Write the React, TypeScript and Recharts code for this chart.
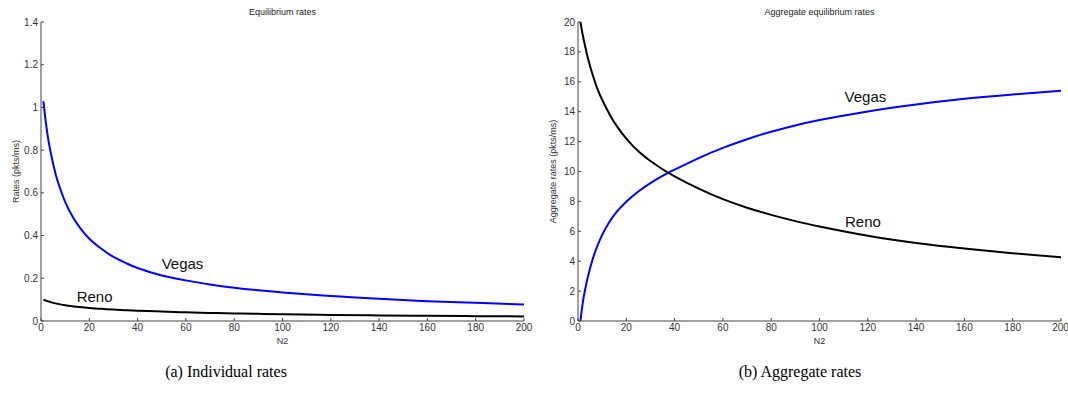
import React from 'react';
import { LineChart, Line, XAxis, YAxis, ReferenceDot } from 'recharts';

// N2 sample points
const n2 = [1, 2, 3, 4, 6, 8, 10, 13, 16, 20, 25, 30, 35, 40, 50, 60, 70, 80, 90, 100, 120, 140, 160, 180, 200];

// (a) individual rates, pkts/ms
const vegasRate = [1.03, 0.93, 0.85, 0.79, 0.69, 0.618, 0.558, 0.49, 0.438, 0.385, 0.338, 0.3, 0.272, 0.248, 0.213, 0.19, 0.171, 0.156, 0.144, 0.134, 0.117, 0.104, 0.093, 0.085, 0.077];
const renoRate = [0.1, 0.0955, 0.0918, 0.0883, 0.0825, 0.0778, 0.074, 0.0693, 0.0653, 0.061, 0.0568, 0.0535, 0.0508, 0.0484, 0.0443, 0.0408, 0.0379, 0.0355, 0.0334, 0.0316, 0.0285, 0.0261, 0.0243, 0.0227, 0.0213];

// (b) aggregate rates, pkts/ms
const vegasAgg = [0, 1.25, 2.15, 2.9, 4.1, 5.0, 5.76, 6.62, 7.3, 7.98, 8.66, 9.22, 9.7, 10.12, 10.9, 11.58, 12.16, 12.66, 13.08, 13.44, 14.02, 14.48, 14.86, 15.15, 15.4];
const renoAgg = [20, 19.1, 18.35, 17.65, 16.5, 15.55, 14.8, 13.85, 13.05, 12.2, 11.35, 10.7, 10.15, 9.68, 8.85, 8.15, 7.58, 7.1, 6.68, 6.32, 5.7, 5.22, 4.85, 4.53, 4.26];

const xTicks = [0, 20, 40, 60, 80, 100, 120, 140, 160, 180, 200];
const yTicksA = [0, 0.2, 0.4, 0.6, 0.8, 1, 1.2, 1.4];
const yTicksB = [0, 2, 4, 6, 8, 10, 12, 14, 16, 18, 20];

const dataA = n2.map((x, i) => ({ n2: x, vegas: vegasRate[i], reno: renoRate[i] }));
const dataB = n2.map((x, i) => ({ n2: x, vegas: vegasAgg[i], reno: renoAgg[i] }));

const SANS = 'Arial, "Liberation Sans", Helvetica, sans-serif';
const axisColor = '#444';
const tickStyle = { fontSize: 10, fill: '#333', fontFamily: SANS };

const yLabel = (text: string, dx: number) => (props: any) => {
    const vb = props.viewBox;
    const cx = vb.x + dx;
    const cy = vb.y + vb.height / 2;
    return (
        <text x={cx} y={cy} transform={`rotate(-90 ${cx} ${cy})`} textAnchor="middle"
            dominantBaseline="central" fontSize={9} fill="#333" fontFamily={SANS}>{text}</text>
    );
};

const curveLabel = (text: string) => ({
    value: text, position: 'center' as const, fontSize: 15, fill: '#111', fontFamily: SANS,
});

function Panel(props: {
    data: any[]; yMax: number; yTicks: number[]; yName: string; labelDx: number;
    width: number; right: number;
    vegasAt: [number, number]; renoAt: [number, number];
}) {
    return (
        <LineChart width={props.width} height={350} data={props.data}
            margin={{ top: 22, right: props.right, bottom: 0, left: 0 }}>
            <XAxis dataKey="n2" type="number" domain={[0, 200]} ticks={xTicks} height={29}
                stroke={axisColor} tickSize={-3} tickMargin={6} tick={tickStyle}
                label={{ value: 'N2', position: 'insideBottom', offset: 6, fontSize: 9, fill: '#333', fontFamily: SANS }} />
            <YAxis type="number" domain={[0, props.yMax]} ticks={props.yTicks} width={40}
                stroke={axisColor} tickSize={-3} tickMargin={6} tick={tickStyle}
                label={{ content: yLabel(props.yName, props.labelDx) }} />
            <Line type="natural" dataKey="vegas" stroke="#0000ff" strokeWidth={2} dot={false} isAnimationActive={false} />
            <Line type="natural" dataKey="reno" stroke="#000" strokeWidth={2} dot={false} isAnimationActive={false} />
            <ReferenceDot x={props.vegasAt[0]} y={props.vegasAt[1]} r={0} stroke="none" label={curveLabel('Vegas')} />
            <ReferenceDot x={props.renoAt[0]} y={props.renoAt[1]} r={0} stroke="none" label={curveLabel('Reno')} />
        </LineChart>
    );
}

const titleStyle: React.CSSProperties = {
    position: 'absolute', top: 6, fontSize: 9, fontFamily: SANS, color: '#222',
    textAlign: 'center', lineHeight: '12px',
};
const captionStyle: React.CSSProperties = {
    position: 'absolute', top: 362, fontSize: 16, fontFamily: '"Liberation Serif", "DejaVu Serif", serif',
    color: '#000', textAlign: 'center', lineHeight: '20px',
};

export default function App() {
    return (
        <div style={{ position: 'absolute', left: 0, top: 0, width: 1068, height: 412, background: '#fff', overflow: 'hidden' }}>
            <div style={{ position: 'absolute', left: 1, top: 0 }}>
                <Panel data={dataA} yMax={1.4} yTicks={yTicksA} yName="Rates (pkts/ms)" labelDx={14.5}
                    width={544} right={21} vegasAt={[58.6, 0.267]} renoAt={[22.2, 0.116]} />
            </div>
            <div style={{ position: 'absolute', left: 538, top: 0 }}>
                <Panel data={dataB} yMax={20} yTicks={yTicksB} yName="Aggregate rates (pkts/ms)" labelDx={15.3}
                    width={530} right={7} vegasAt={[119, 15]} renoAt={[118, 6.64]} />
            </div>
            <div style={{ ...titleStyle, left: 41, width: 483 }}>Equilibrium rates</div>
            <div style={{ ...titleStyle, left: 578, width: 483 }}>Aggregate equilibrium rates</div>
            <div style={{ ...captionStyle, left: 41, width: 370 }}>(a) Individual rates</div>
            <div style={{ ...captionStyle, left: 615, width: 370 }}>(b) Aggregate rates</div>
        </div>
    );
}
